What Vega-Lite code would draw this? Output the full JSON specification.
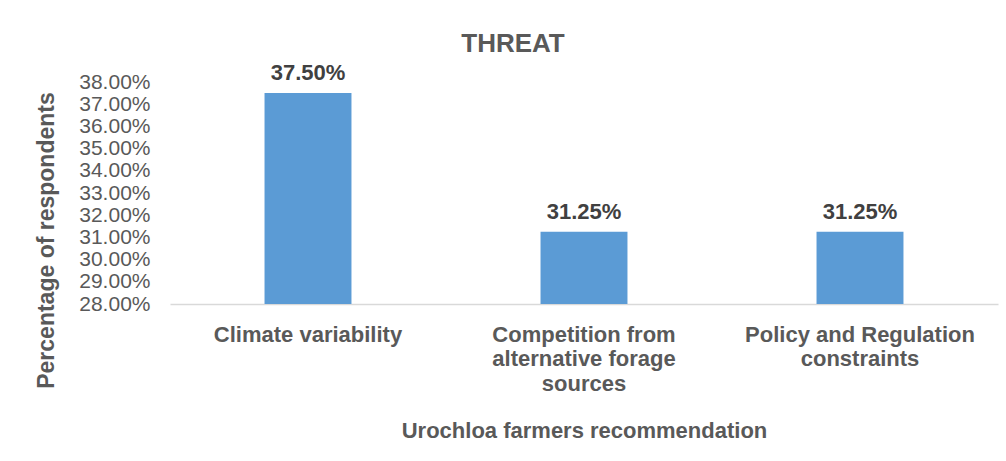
{
  "$schema": "https://vega.github.io/schema/vega-lite/v6.json",
  "autosize": {"type": "none"},
  "width": 828,
  "height": 222,
  "padding": {"left": 170, "top": 82, "right": 8, "bottom": 157},
  "background": "white",
  "config": {
    "view": {"stroke": null},
    "font": "Liberation Sans"
  },
  "title": {
    "text": "THREAT",
    "fontSize": 26,
    "fontWeight": "bold",
    "color": "#595959",
    "anchor": "middle",
    "baseline": "alphabetic",
    "dx": -71,
    "dy": 49,
    "offset": 33
  },
  "data": {
    "values": [
      {"category": "Climate variability", "value": 0.375},
      {"category": "Competition from alternative forage sources", "value": 0.3125},
      {"category": "Policy and Regulation constraints", "value": 0.3125}
    ]
  },
  "encoding": {
    "x": {
      "field": "category",
      "type": "nominal",
      "sort": null,
      "scale": {"paddingInner": 0.685, "paddingOuter": 0.3425},
      "axis": {
        "title": "Urochloa farmers recommendation",
        "titleFontSize": 22,
        "titleFontWeight": "bold",
        "titleColor": "#595959",
        "titleY": 133,
        "titleBaseline": "alphabetic",
        "labelAngle": 0,
        "labelFontSize": 22,
        "labelFontWeight": "bold",
        "labelColor": "#595959",
        "labelLimit": 0,
        "labelPadding": 20,
        "labelLineHeight": 24.5,
        "labelExpr": "datum.value == 'Competition from alternative forage sources' ? ['Competition from', 'alternative forage', 'sources'] : datum.value == 'Policy and Regulation constraints' ? ['Policy and Regulation', 'constraints'] : datum.value",
        "ticks": false,
        "domainColor": "#D9D9D9",
        "domainWidth": 1.5
      }
    },
    "y": {
      "field": "value",
      "type": "quantitative",
      "scale": {"domain": [0.28, 0.38], "zero": false, "nice": false},
      "axis": {
        "title": "Percentage of respondents",
        "titleFontSize": 23,
        "titleFontWeight": "bold",
        "titleColor": "#595959",
        "titleX": -117,
        "titleY": 158,
        "titleBaseline": "alphabetic",
        "values": [0.28, 0.29, 0.30, 0.31, 0.32, 0.33, 0.34, 0.35, 0.36, 0.37, 0.38],
        "format": ".2%",
        "labelFontSize": 21,
        "labelColor": "#595959",
        "labelPadding": 20,
        "ticks": false,
        "domain": false,
        "grid": false
      }
    }
  },
  "layer": [
    {"mark": {"type": "bar", "color": "#5B9BD5", "clip": true}},
    {
      "mark": {"type": "text", "fontSize": 22, "fontWeight": "bold", "color": "#404040", "baseline": "alphabetic", "dy": -13},
      "encoding": {"text": {"field": "value", "type": "quantitative", "format": ".2%"}}
    }
  ]
}
